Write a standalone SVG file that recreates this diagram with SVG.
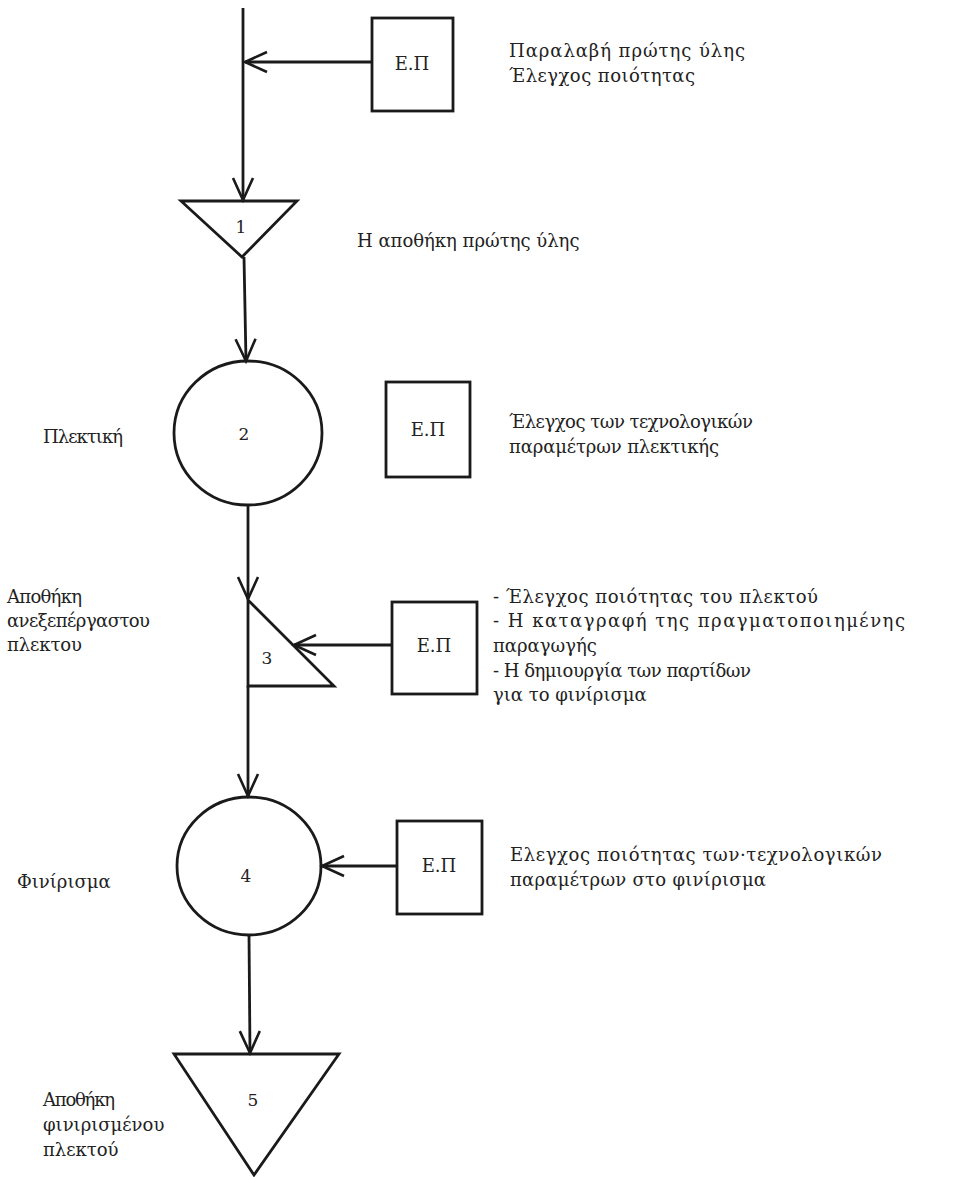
<svg xmlns="http://www.w3.org/2000/svg" width="959" height="1177" viewBox="0 0 959 1177">
<defs>
<marker id="arr" markerUnits="userSpaceOnUse" markerWidth="30" markerHeight="30" refX="0" refY="0" viewBox="-26 -13 30 26" orient="auto">
<path d="M-22,-10 L0,0 L-22,10" fill="none" stroke="#1a1a1a" stroke-width="2.6"/>
</marker>
</defs>
<style>
.ln{stroke:#1a1a1a;stroke-width:2.8;fill:none}
.sh{stroke:#1a1a1a;stroke-width:2.8;fill:none}
.t{font-family:"DejaVu Serif","Liberation Serif",serif;font-size:18px;fill:#222}
.n{font-family:"DejaVu Serif","Liberation Serif",serif;font-size:17px;fill:#222;text-anchor:middle}
.ep{font-family:"DejaVu Serif","Liberation Serif",serif;font-size:18px;fill:#222;text-anchor:middle}
</style>
<rect x="0" y="0" width="959" height="1177" fill="#ffffff"/>

<g id="connectors">
<line class="ln" x1="243" y1="8" x2="243" y2="200" marker-end="url(#arr)"/>
<line class="ln" x1="372" y1="62" x2="245" y2="62" marker-end="url(#arr)"/>
<line class="ln" x1="244" y1="257" x2="246" y2="361" marker-end="url(#arr)"/>
<line class="ln" x1="248" y1="505" x2="248" y2="599" marker-end="url(#arr)"/>
<line class="ln" x1="392" y1="645" x2="294" y2="645" marker-end="url(#arr)"/>
<line class="ln" x1="248" y1="686" x2="248" y2="796" marker-end="url(#arr)"/>
<line class="ln" x1="397" y1="866" x2="322" y2="866" marker-end="url(#arr)"/>
<line class="ln" x1="249" y1="935" x2="250" y2="1053" marker-end="url(#arr)"/>
</g>

<g id="ep1">
<rect class="sh" x="372" y="18" width="81" height="93"/>
<text class="ep" x="412" y="70">Ε.Π</text>
</g>
<g id="note1">
<text class="t" x="509" y="57" textLength="236" lengthAdjust="spacing">Παραλαβή πρώτης ύλης</text>
<text class="t" x="509" y="82" textLength="186" lengthAdjust="spacing">Έλεγχος ποιότητας</text>
</g>

<g id="node1">
<polygon class="sh" points="181,201 297,201 242,257"/>
<text class="n" x="241" y="233">1</text>
<text class="t" x="357" y="247">Η αποθήκη πρώτης ύλης</text>
</g>

<g id="node2">
<ellipse class="sh" cx="248" cy="433" rx="74" ry="72"/>
<text class="n" x="244" y="440">2</text>
<text class="t" x="43" y="443" textLength="80" lengthAdjust="spacing">Πλεκτική</text>
</g>
<g id="ep2">
<rect class="sh" x="386" y="382" width="84" height="95"/>
<text class="ep" x="428" y="436">Ε.Π</text>
</g>
<g id="note2">
<text class="t" x="509" y="428" textLength="244" lengthAdjust="spacing">Έλεγχος των τεχνολογικών</text>
<text class="t" x="509" y="453" textLength="210" lengthAdjust="spacing">παραμέτρων πλεκτικής</text>
</g>

<g id="node3">
<polygon class="sh" points="248,600 334,686 248,686"/>
<text class="n" x="267" y="664">3</text>
<text class="t" x="7" y="603" textLength="75" lengthAdjust="spacing">Αποθήκη</text>
<text class="t" x="7" y="627" textLength="143" lengthAdjust="spacing">ανεξεπέργαστου</text>
<text class="t" x="7" y="651" textLength="75" lengthAdjust="spacing">πλεκτου</text>
</g>
<g id="ep3">
<rect class="sh" x="392" y="602" width="85" height="92"/>
<text class="ep" x="434" y="652">Ε.Π</text>
</g>
<g id="note3">
<text class="t" x="493" y="603" textLength="325" lengthAdjust="spacing">- Έλεγχος ποιότητας του πλεκτού</text>
<text class="t" x="493" y="627" textLength="412" lengthAdjust="spacing">- Η καταγραφή της πραγματοποιημένης</text>
<text class="t" x="493" y="652">παραγωγής</text>
<text class="t" x="493" y="677" textLength="258" lengthAdjust="spacing">- Η δημιουργία των παρτίδων</text>
<text class="t" x="493" y="701">για το φινίρισμα</text>
</g>

<g id="node4">
<ellipse class="sh" cx="249" cy="866" rx="72" ry="69"/>
<text class="n" x="246" y="882">4</text>
<text class="t" x="17" y="888">Φινίρισμα</text>
</g>
<g id="ep4">
<rect class="sh" x="397" y="821" width="85" height="93"/>
<text class="ep" x="439" y="872">Ε.Π</text>
</g>
<g id="note4">
<text class="t" x="510" y="861" textLength="372" lengthAdjust="spacing">Ελεγχος ποιότητας των·τεχνολογικών</text>
<text class="t" x="510" y="886" textLength="256" lengthAdjust="spacing">παραμέτρων στο φινίρισμα</text>
</g>

<g id="node5">
<polygon class="sh" points="174,1054 339,1054 254,1175"/>
<text class="n" x="253" y="1106">5</text>
<text class="t" x="43" y="1106" textLength="72" lengthAdjust="spacing">Αποθήκη</text>
<text class="t" x="43" y="1131">φινιρισμένου</text>
<text class="t" x="43" y="1156">πλεκτού</text>
</g>
</svg>
